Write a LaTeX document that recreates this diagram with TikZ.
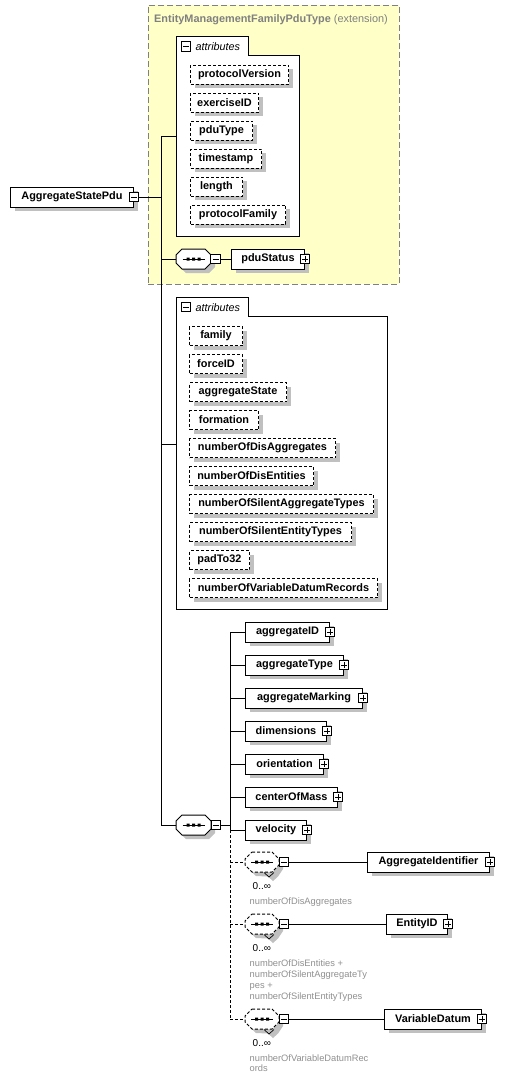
\documentclass[tikz,border=0pt]{standalone}
\usepackage{fontspec}
\setmainfont{Liberation Sans}
\usetikzlibrary{shadows}
\definecolor{ybg}{HTML}{FFFFC8}
\definecolor{ybd}{HTML}{808080}
\definecolor{shd}{HTML}{C0C0C0}
\definecolor{anno}{HTML}{909090}
\tikzset{
  bfnt/.style={font=\fontsize{10.9}{12}\selectfont\bfseries},
  shdw/.style={drop shadow={shadow xshift=4pt, shadow yshift=-4pt, fill=shd, opacity=1}},
  elem/.style={draw, fill=white, line width=1pt, bfnt, anchor=west, minimum height=20pt, inner ysep=0pt, inner xsep=2pt, shdw},
  attr/.style={draw, dash pattern=on 3pt off 2pt, fill=white, line width=1pt, bfnt, anchor=west, minimum height=19pt, inner ysep=0pt, inner xsep=2pt, shdw},
  pm/.style={draw, fill=white, line width=1pt, minimum size=9.5pt, inner sep=0pt},
  conn/.style={line width=1pt},
  dconn/.style={line width=1pt, dash pattern=on 3pt off 2pt},
  attlbl/.style={anchor=base west, inner sep=0pt, font=\fontsize{10.8}{12}\selectfont\itshape},
  mult/.style={anchor=base west, inner sep=0pt, font=\fontsize{10}{12}\selectfont},
  note/.style={anchor=base west, inner sep=0pt, align=left, text=anno, font=\fontsize{9.3}{11}\selectfont},
}
\newcommand\pmMinus[2]{\node[pm] (#1) at (#2) {};
  \draw[line width=1pt] ([xshift=-3pt]#1.center) -- ([xshift=3pt]#1.center);}
\newcommand\pmPlus[2]{\node[pm] (#1) at (#2) {};
  \draw[line width=1pt] ([xshift=-3pt]#1.center) -- ([xshift=3pt]#1.center)
    ([yshift=-3pt]#1.center) -- ([yshift=3pt]#1.center);}
\newcommand\seqoct[2]{%
  \node[minimum width=35pt, minimum height=20pt, inner sep=0pt] (#1) at (#2) {};
  \fill[shd, shift={(#1.center)}, shift={(4,4)}] (-11.5,-10) -- (11.5,-10) -- (17.5,-4) -- (17.5,4) -- (11.5,10) -- (-11.5,10) -- (-17.5,4) -- (-17.5,-4) -- cycle;
  \draw[fill=white, line width=1pt, shift={(#1.center)}] (-11.5,-10) -- (11.5,-10) -- (17.5,-4) -- (17.5,4) -- (11.5,10) -- (-11.5,10) -- (-17.5,4) -- (-17.5,-4) -- cycle;
  \draw[line width=1pt, shift={(#1.center)}] (-11,0) -- (11,0);
  \fill[shift={(#1.center)}] (-7,-1.5) rectangle (-4,1.5) (-1.5,-1.5) rectangle (1.5,1.5) (4,-1.5) rectangle (7,1.5);
}
\newcommand\repoct{}
\renewcommand\repoct[2]{%
  \node[minimum width=34pt, minimum height=20pt, inner sep=0pt] (#1) at (#2) {};
  \fill[shd, shift={(#1.center)}, shift={(4,4)}] (-10,-10) -- (10,-10) -- (17,-3) -- (17,3) -- (12,10.5) -- (7,15) -- (2,10.5) -- (-10,10) -- (-17,3) -- (-17,-3) -- cycle;
  \draw[fill=white, line width=1pt, dash pattern=on 3pt off 2pt, shift={(#1.center)}] (-10,-10) -- (10,-10) -- (17,-3) -- (17,3) -- (10,10) -- (-10,10) -- (-17,3) -- (-17,-3) -- cycle;
  \draw[line width=0.7pt, shift={(#1.center)}] (2,10.5) -- (7,15) -- (12,10.5);
  \draw[line width=1pt, shift={(#1.center)}] (-11,0) -- (11,0);
  \fill[shift={(#1.center)}] (-7,-1.5) rectangle (-4,1.5) (-1.5,-1.5) rectangle (1.5,1.5) (4,-1.5) rectangle (7,1.5);
}
\begin{document}
\begin{tikzpicture}[x=1pt, y=-1pt]
\useasboundingbox (0,0) rectangle (514,1085);
\fill[white] (0,0) rectangle (514,1085);

% extension container
\node[draw=ybd, fill=ybg, line width=1pt, dash pattern=on 6pt off 3pt, minimum width=251pt, minimum height=279pt, inner sep=0pt] (ext) at (273.5,144.5) {};
\node[anchor=base west, inner sep=0pt, text=ybd, font=\fontsize{10.9}{12}\selectfont] (exttitle) at (154,22) {\textbf{EntityManagementFamilyPduType} (extension)};

% trunk A
\coordinate (a0) at (161,136);
\coordinate (a2) at (161,444);
\coordinate (a1) at (161,825);

% attributes group 1
\node[minimum width=123pt, minimum height=200pt, inner sep=0pt] (att1) at (237.5,136) {};
\draw[fill=white, line width=1pt] (176,236) -- (176,36) -- (248,36) -- (248,55) -- (299,55) -- (299,236) -- cycle;
\pmMinus{att1m}{186,46.5}
\node[attlbl] (att1l) at (195.5,50.5) {attributes};
\node[attr, minimum width=98pt] (pv) at (190,74.5) {protocolVersion};
\node[attr, minimum width=68pt] (ex) at (190,102.5) {exerciseID};
\node[attr, minimum width=62pt] (pt) at (190,130.5) {pduType};
\node[attr, minimum width=71pt] (ts) at (190,158.5) {timestamp};
\node[attr, minimum width=52pt] (ln) at (190,186.5) {length};
\node[attr, minimum width=95pt] (pf) at (190,214.5) {protocolFamily};

% root element
\node[elem, minimum width=123pt] (asp) at (10,197) {AggregateStatePdu\hspace{3pt}};
\pmMinus{aspm}{asp.east}

% pduStatus sequence
\seqoct{seq1}{193.5,259}
\pmMinus{seq1m}{215.5,259}
\node[elem, minimum width=73pt] (pdus) at (231,259) {pduStatus\hspace{3pt}};
\pmPlus{pdusp}{pdus.east}

% attributes group 2
\node[minimum width=211pt, minimum height=312pt, inner sep=0pt] (att2) at (281.5,453) {};
\draw[fill=white, line width=1pt] (176,609) -- (176,297) -- (248,297) -- (248,316) -- (387,316) -- (387,609) -- cycle;
\pmMinus{att2m}{186,307}
\node[attlbl] (att2l) at (195.5,311) {attributes};
\node[attr, minimum width=53pt] (fam) at (189,336) {family};
\node[attr, minimum width=53pt] (frc) at (189,364) {forceID};
\node[attr, minimum width=97pt] (ags) at (189,392) {aggregateState};
\node[attr, minimum width=69pt] (fmt) at (189,420) {formation};
\node[attr, minimum width=146pt] (nda) at (189,448) {numberOfDisAggregates};
\node[attr, minimum width=124pt] (nde) at (189,476) {numberOfDisEntities};
\node[attr, minimum width=184pt] (nsa) at (189,504) {numberOfSilentAggregateTypes};
\node[attr, minimum width=162pt] (nse) at (189,532) {numberOfSilentEntityTypes};
\node[attr, minimum width=60pt] (pad) at (189,560) {padTo32};
\node[attr, minimum width=188pt] (nvd) at (189,588) {numberOfVariableDatumRecords};

% main sequence
\seqoct{seq2}{193.5,825}
\pmMinus{seq2m}{216,825}
\coordinate (b0) at (230,825);
\coordinate (bt) at (230,632);
\coordinate (bv) at (230,830);
\coordinate (bb) at (230,1019);

\node[elem, minimum width=84pt] (agid) at (245,632) {aggregateID\hspace{3pt}};
\pmPlus{agidp}{agid.east}
\node[elem, minimum width=98pt] (agty) at (245,665) {aggregateType\hspace{3pt}};
\pmPlus{agtyp}{agty.east}
\node[elem, minimum width=117pt] (agmk) at (245,698) {aggregateMarking\hspace{3pt}};
\pmPlus{agmkp}{agmk.east}
\node[elem, minimum width=81pt] (dim) at (245,731) {dimensions\hspace{3pt}};
\pmPlus{dimp}{dim.east}
\node[elem, minimum width=78pt] (ori) at (245,764) {orientation\hspace{3pt}};
\pmPlus{orip}{ori.east}
\node[elem, minimum width=92pt] (com) at (245,797) {centerOfMass\hspace{3pt}};
\pmPlus{comp}{com.east}
\node[elem, minimum width=61pt] (vel) at (245,830) {velocity\hspace{3pt}};
\pmPlus{velp}{vel.east}

% repeated sequences
\repoct{rep1}{262,862}
\pmMinus{rep1m}{284,862}
\node[elem, minimum width=122pt] (agi) at (367,862) {AggregateIdentifier\hspace{3pt}};
\pmPlus{agip}{agi.east}
\node[mult] (m1) at (252.5,889.5) {0..∞};
\node[note] (n1) at (249.5,904.5) {numberOfDisAggregates};

\repoct{rep2}{262,924}
\pmMinus{rep2m}{284,924}
\node[elem, minimum width=61pt] (eid) at (386,924) {EntityID\hspace{3pt}};
\pmPlus{eidp}{eid.east}
\node[mult] (m2) at (252.5,951.5) {0..∞};
\node[note] (n2) at (249.5,999.5) {numberOfDisEntities +\\numberOfSilentAggregateTy\\pes +\\numberOfSilentEntityTypes};

\repoct{rep3}{262,1019}
\pmMinus{rep3m}{284,1019}
\node[elem, minimum width=97pt] (vd) at (384,1019) {VariableDatum\hspace{3pt}};
\pmPlus{vdp}{vd.east}
\node[mult] (m3) at (252.5,1046.5) {0..∞};
\node[note, font=\fontsize{9.3}{10.5}\selectfont] (n3) at (249.5,1071.5) {numberOfVariableDatumRec\\ords};

% connectors
\draw[conn] (a0) -- (a1);
\draw[conn] (aspm.east) -- (aspm.east -| a0);
\draw[conn] (a0) -- (att1.west);
\draw[conn] (a2) -- (a2 -| att2.west);
\draw[conn] (seq1.west -| a0) -- (seq1.west);
\draw[conn] (seq1.east) -- (seq1m.west);
\draw[conn] (seq1m.east) -- (pdus.west);
\draw[conn] (a1) -- (seq2.west);
\draw[conn] (seq2.east) -- (seq2m.west);
\draw[conn] (seq2m.east) -- (b0);
\draw[conn] (bt) -- (bv);
\draw[dconn] (bv) -- (bb);
\foreach \n in {agid,agty,agmk,dim,ori,com,vel}{
  \draw[conn] (\n.west -| bt) -- (\n.west);
}
\foreach \n in {rep1,rep2,rep3}{
  \draw[dconn] (\n.west -| bt) -- (\n.west);
  \draw[conn] (\n.east) -- (\n m.west);
}
\draw[conn] (rep1m.east) -- (agi.west);
\draw[conn] (rep2m.east) -- (eid.west);
\draw[conn] (rep3m.east) -- (vd.west);
\end{tikzpicture}
\end{document}
